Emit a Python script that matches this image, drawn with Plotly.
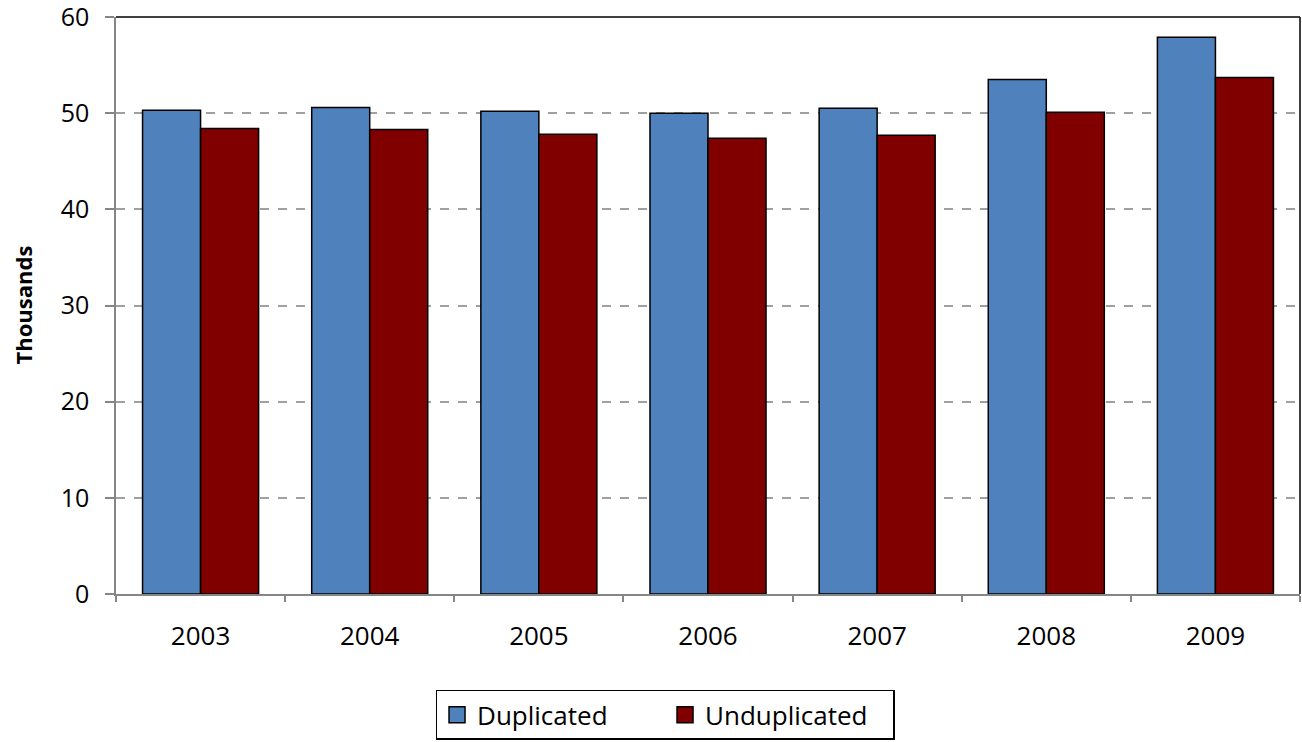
import plotly.graph_objects as go

years = ["2003", "2004", "2005", "2006", "2007", "2008", "2009"]
duplicated = [50.3, 50.6, 50.2, 50.0, 50.5, 53.5, 57.9]
unduplicated = [48.4, 48.3, 47.8, 47.4, 47.7, 50.1, 53.7]
y_ticks = [0, 10, 20, 30, 40, 50, 60]
series_names = ["Duplicated", "Unduplicated"]
series_colors = ["#4F81BD", "#800000"]

FONT = "Open Sans"
GRAY = "#868686"

fig = go.Figure()
for vals, name, col in zip([duplicated, unduplicated], series_names, series_colors):
    fig.add_trace(go.Bar(x=years, y=vals, name=name, showlegend=False,
                         marker=dict(color=col, line=dict(color="black", width=1.5))))
# legend entries with square swatches
for name, col in zip(series_names, series_colors):
    fig.add_trace(go.Scatter(x=[None], y=[None], mode="markers", name=name,
                             marker=dict(symbol="square", size=18, color=col,
                                         line=dict(color="black", width=1.5))))

fig.update_layout(
    width=1302, height=742,
    margin=dict(l=116, r=2, t=17, b=145),
    paper_bgcolor="white", plot_bgcolor="white",
    barmode="group", bargap=0.314, bargroupgap=0,
    font=dict(family=FONT, size=25, color="black"),
    showlegend=True,
    legend=dict(orientation="h", x=0.4637, xanchor="center", y=-0.166, yanchor="top",
                bordercolor="black", borderwidth=1.5, font=dict(size=26),
                itemwidth=30, tracegroupgap=0, entrywidth=183),
    xaxis=dict(showline=True, linecolor=GRAY, linewidth=1.5, ticks="outside",
               tickson="boundaries", ticklen=6, tickcolor=GRAY, tickwidth=1.5,
               ticklabelstandoff=18, showgrid=False, tickfont=dict(size=26),
               automargin=False),
    yaxis=dict(range=[0, 60], tickvals=y_ticks, showline=True, linecolor=GRAY,
               linewidth=1.5, ticks="outside", ticklen=9, tickcolor=GRAY, tickwidth=1.5,
               showgrid=True, gridcolor="#A0A0A0", griddash="dash", gridwidth=1.5,
               zeroline=False, tickfont=dict(size=25), automargin=False,
               ticklabeloverflow="allow", ticklabelstandoff=11),
    annotations=[dict(text="<b>Thousands</b>", xref="paper", yref="paper",
                      x=-(116 - 22) / 1184, y=0.5, xanchor="center", yanchor="middle",
                      textangle=-90, showarrow=False, font=dict(size=22))],
)
# black top and right frame
fig.add_shape(type="line", xref="paper", yref="paper", x0=0, x1=1, y0=1, y1=1,
              line=dict(color="black", width=1.5))
fig.add_shape(type="line", xref="paper", yref="paper", x0=1, x1=1, y0=0, y1=1,
              line=dict(color="black", width=1.5))

fig.write_html("out.html", config={"displayModeBar": False},
               post_script="document.body.style.margin='0';document.body.style.overflow='hidden';")
